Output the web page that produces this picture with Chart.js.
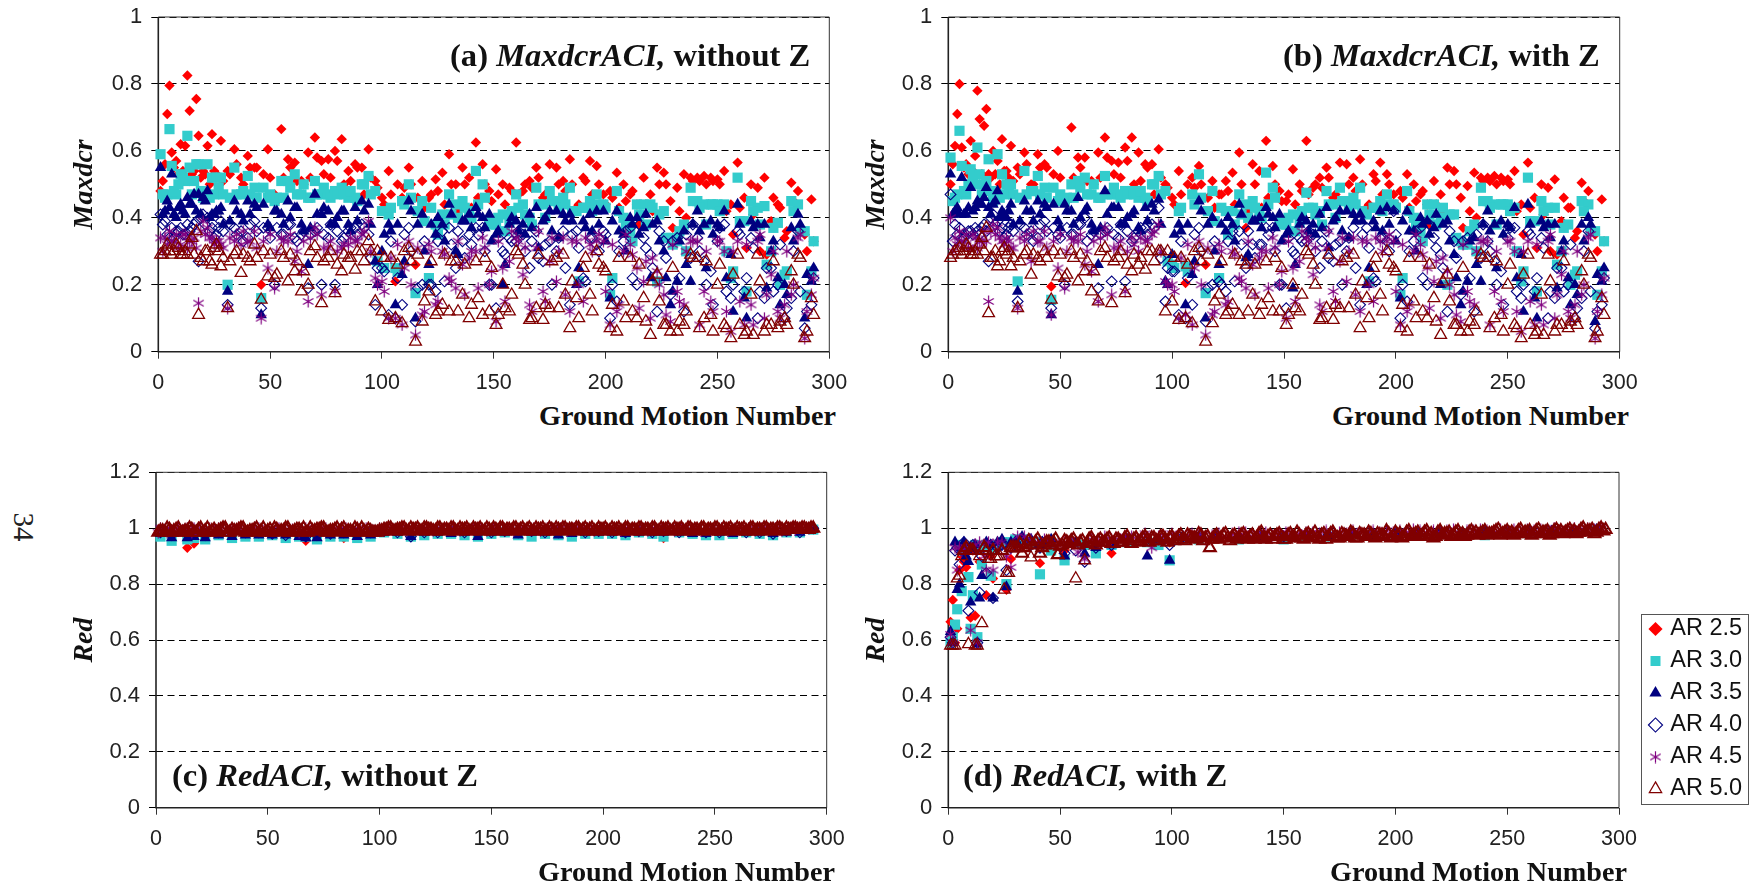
<!DOCTYPE html>
<html>
<head>
<meta charset="utf-8">
<title>Maxdcr and Red vs ground motion number</title>
<script src="https://cdn.jsdelivr.net/npm/chart.js@4/dist/chart.umd.min.js"></script>
<style>
body { margin: 0; background: #fff; }
#stage { position: relative; width: 1758px; height: 888px; overflow: hidden; }
canvas { position: absolute; }
#legendWrap { position: absolute; left: 1641px; top: 614px; width: 108px; height: 191px; border: 1.5px solid #555; box-sizing: border-box; overflow: hidden; }
.lab { position: absolute; font-family: "Liberation Serif", serif; font-weight: bold; color: #111; white-space: nowrap; line-height: 1; }
.lab i { font-style: italic; }
.xt { font-size: 28.2px; }
.pt { font-size: 32.6px; }
#pageNo { position: absolute; left: 23px; top: 527px; font: 29px "Liberation Serif", serif; color: #222; transform: translate(-50%, -50%) rotate(90deg); }
</style>
</head>
<body>
<div id="stage">
  <canvas id="chartA" width="795" height="390" style="left:60px;top:5px"></canvas>
  <canvas id="chartB" width="798" height="390" style="left:852px;top:5px"></canvas>
  <canvas id="chartC" width="795" height="400" style="left:60px;top:460px"></canvas>
  <canvas id="chartD" width="798" height="400" style="left:852px;top:460px"></canvas>
  <div id="legendWrap"><canvas id="legendChart" width="260" height="260" style="left:2px;top:-36px"></canvas></div>
  <span class="lab pt" style="left:450px;top:39px">(a) <i>MaxdcrACI,</i> without Z</span>
  <span class="lab pt" style="left:1283px;top:39px">(b) <i>MaxdcrACI,</i> with Z</span>
  <span class="lab pt" style="left:172px;top:759px">(c) <i>RedACI,</i> without Z</span>
  <span class="lab pt" style="left:963px;top:759px">(d) <i>RedACI,</i> with Z</span>
  <span class="lab xt" style="left:539px;top:402px">Ground Motion Number</span>
  <span class="lab xt" style="left:1332px;top:402px">Ground Motion Number</span>
  <span class="lab xt" style="left:538px;top:858px">Ground Motion Number</span>
  <span class="lab xt" style="left:1330px;top:858px">Ground Motion Number</span>
  <div id="pageNo">34</div>
</div>
<script>
const seriesNames = ['AR 2.5', 'AR 3.0', 'AR 3.5', 'AR 4.0', 'AR 4.5', 'AR 5.0'];

// ground motion numbers the values below were read at
const gmNumbers = [1,2,3,4,5,6,8,10,12,13,14,16,17,18,20,22,24,26,28,31,
  34,37,40,43,46,49,52,55,58,61,64,67,70,73,76,79,82,85,88,91,94,97,100,
  103,106,109,112,115,118,121,124,127,130,133,136,139,142,145,148,151,154,157,160,
  163,166,169,172,175,178,181,184,187,190,193,196,199,202,205,208,211,214,217,220,
  223,226,229,232,235,238,241,244,247,250,253,256,259,262,265,268,271,274,277,280,
  283,286,289,292];
// the rest of the crowd in (a) and (b), the two panels are nearly the same here
const gmCrowd = [7,9,11,15,19,21,23,25,27,29,32,35,38,41,44,47,50,53,56,59,62,65,68,71,74,77,80,83,86,89,92,95,98,101,
  104,107,110,113,116,119,122,125,128,131,134,137,140,143,146,149,152,155,158,161,
  164,167,170,173,176,179,182,185,188,191,194,197,200,203,206,209,212,215,218,221,
  224,227,230,233,236,239,242,245,248,251,254,257,260,263,266,269,272,275,278,281,
  284,287,290,293];
const gmBand = [1,3,5,7,9,11,13,15,17,19,21,23,25,27,29,31,33,35,37,39,41,43,45,47,49,51,53,55,57,59,61,63,65,67,69,71,73,75,77,79,81,83,85,87,89,91,93,95,97,99,
  101,103,105,107,109,111,113,115,117,119,121,123,125,127,129,131,133,135,137,139,141,143,145,147,149,151,153,155,157,159,161,163,165,167,169,171,173,175,177,179,181,183,185,187,189,191,193,195,197,199,
  201,203,205,207,209,211,213,215,217,219,221,223,225,227,229,231,233,235,237,239,241,243,245,247,249,251,253,255,257,259,261,263,265,267,269,271,273,275,277,279,281,283,285,287,289,291,293];
const gmBandEven = [2,4,6,8,10,12,14,16,18,20,22,24,26,28,30,32,34,36,38,40,42,44,46,48,50,52,54,56,58,60,62,64,66,68,70,72,74,76,78,80,82,84,86,88,90,92,94,96,98,100,
  102,104,106,108,110,112,114,116,118,120,122,124,126,128,130,132,134,136,138,140,142,144,146,148,150,152,154,156,158,160,162,164,166,168,170,172,174,176,178,180,182,184,186,188,190,192,194,196,198,200,
  202,204,206,208,210,212,214,216,218,220,222,224,226,228,230,232,234,236,238,240,242,244,246,248,250,252,254,256,258,260,262,264,266,268,270,272,274,276,278,280,282,284,286,288,290,292,294];
const gmSparseC = [2,7,14,17,22,28,34,40,46,52,58,64,67,72,78,84,90,96,102,108,114,120,126,132,138,144,150,156,162,168,174,180,186,192,198,204,210,216,222,227,234,240,246,252,258,264,270,276,282,288,294];
const gmSparseD = [1,2,3,4,5,6,7,8,9,10,11,12,13,14,15,17,19,20,22,24,26,28,30,33,37,41,42,46,52,57,61,66,73,80,89,94,99,105,112,120,130,140,150,160,170,180,190,200,210,220,230,240,250,260,270,280,290];

// (a) MaxdcrACI, without Z
const a25 = [.48,.51,.56,.71,.795,.595,.57,.62,.615,.825,.72,.54,.755,.645,.54,.615,.65,.53,.63,.54,
  .605,.52,.585,.55,.2,.605,.47,.665,.575,.565,.51,.595,.64,.57,.575,.6,.635,.54,.56,.55,.605,.51,.46,
  .54,.21,.46,.55,.26,.51,.46,.515,.535,.59,.5,.55,.52,.625,.56,.48,.545,.5,.49,.625,
  .48,.51,.55,.46,.56,.55,.51,.575,.43,.52,.57,.555,.47,.48,.535,.5,.47,.44,.52,.47,
  .55,.535,.45,.49,.53,.52,.52,.525,.52,.515,.54,.44,.565,.46,.5,.49,.52,.39,.44,.34,
  .505,.48,.35,.455];
const a30 = [.59,.47,.46,.47,.665,.555,.47,.53,.51,.645,.55,.51,.56,.56,.46,.56,.52,.52,.52,.2,
  .55,.47,.525,.49,.16,.46,.45,.51,.51,.53,.47,.46,.51,.47,.47,.48,.49,.46,.46,.5,.525,.48,.42,
  .41,.25,.45,.5,.175,.45,.22,.38,.41,.47,.44,.45,.42,.54,.5,.39,.38,.41,.39,.47,
  .44,.4,.49,.44,.48,.45,.46,.49,.42,.43,.45,.47,.44,.17,.48,.4,.36,.44,.44,.44,
  .21,.42,.34,.33,.38,.49,.45,.44,.44,.44,.44,.22,.52,.39,.45,.43,.435,.3,.385,.23,
  .45,.44,.36,.24];
const a35 = [.55,.41,.42,.45,.43,.53,.4,.44,.41,.46,.44,.47,.42,.47,.46,.48,.41,.42,.43,.18,
  .45,.41,.45,.44,.11,.38,.42,.41,.45,.43,.38,.26,.47,.41,.42,.38,.42,.38,.43,.45,.44,.27,.3,
  .38,.14,.23,.45,.1,.41,.26,.35,.38,.44,.3,.39,.41,.43,.4,.41,.35,.2,.38,.39,
  .38,.41,.43,.39,.42,.42,.41,.41,.2,.39,.41,.42,.42,.16,.42,.35,.4,.4,.37,.22,
  .39,.3,.14,.21,.36,.21,.42,.38,.39,.38,.42,.29,.44,.16,.39,.38,.38,.3,.22,.2,
  .37,.41,.1,.21];
const a40 = [.41,.38,.39,.35,.34,.37,.36,.37,.35,.38,.36,.38,.39,.27,.41,.4,.37,.35,.39,.14,
  .37,.36,.34,.39,.13,.37,.2,.35,.38,.34,.35,.19,.36,.2,.34,.2,.33,.36,.37,.38,.35,.14,.25,
  .11,.1,.14,.37,.09,.2,.2,.18,.36,.37,.25,.33,.35,.37,.37,.2,.13,.3,.34,.33,
  .35,.25,.36,.27,.33,.3,.36,.14,.36,.22,.34,.32,.36,.1,.15,.33,.37,.2,.34,.29,
  .12,.33,.17,.34,.12,.28,.34,.27,.24,.33,.38,.16,.36,.18,.34,.1,.16,.25,.2,.1,
  .16,.36,.07,.14];
const a45 = [.34,.3,.34,.32,.36,.33,.35,.32,.35,.31,.33,.34,.31,.145,.39,.37,.34,.33,.32,.13,
  .33,.32,.33,.36,.1,.25,.19,.34,.33,.27,.24,.15,.37,.17,.31,.18,.31,.32,.33,.35,.39,.22,.21,
  .1,.1,.08,.33,.05,.11,.32,.14,.3,.22,.19,.26,.28,.3,.34,.2,.09,.25,.27,.34,
  .23,.14,.31,.18,.27,.21,.34,.12,.33,.15,.32,.33,.33,.08,.12,.3,.32,.25,.21,.1,
  .24,.17,.09,.18,.14,.33,.33,.18,.15,.33,.3,.06,.33,.08,.14,.33,.1,.23,.12,.14,
  .17,.34,.04,.17];
const a50 = [.29,.29,.3,.32,.3,.29,.32,.29,.3,.29,.32,.29,.36,.11,.27,.3,.26,.32,.255,.13,
  .29,.235,.28,.32,.155,.225,.22,.3,.21,.24,.18,.2,.315,.145,.28,.175,.24,.28,.245,.3,.33,.15,.12,
  .095,.1,.085,.31,.03,.09,.18,.11,.14,.12,.27,.17,.1,.27,.11,.12,.08,.2,.12,.3,
  .26,.095,.13,.095,.13,.28,.29,.07,.16,.25,.17,.3,.25,.07,.06,.15,.28,.1,.16,.05,
  .23,.08,.06,.06,.08,.29,.28,.1,.11,.2,.08,.04,.29,.05,.17,.29,.06,.08,.07,.1,
  .24,.29,.04,.16];

// (b) MaxdcrACI, with Z
const b25 = [.5,.56,.615,.71,.8,.61,.56,.63,.585,.78,.695,.675,.725,.53,.6,.57,.635,.54,.615,.55,
  .595,.5,.59,.56,.195,.6,.46,.67,.58,.58,.51,.595,.64,.57,.565,.61,.64,.595,.56,.56,.605,.5,.46,
  .54,.205,.52,.555,.26,.51,.47,.51,.535,.595,.37,.56,.54,.63,.555,.48,.45,.545,.5,.63,
  .49,.52,.55,.46,.565,.56,.52,.575,.43,.53,.565,.53,.47,.48,.53,.5,.47,.44,.51,.47,
  .55,.54,.46,.495,.535,.52,.52,.525,.52,.515,.54,.44,.565,.46,.5,.49,.515,.39,.43,.34,
  .505,.48,.35,.455];
const b30 = [.58,.45,.46,.47,.66,.555,.47,.545,.5,.61,.53,.5,.51,.575,.45,.59,.53,.5,.5,.21,
  .54,.48,.525,.49,.155,.45,.45,.5,.51,.52,.47,.46,.525,.47,.47,.48,.48,.46,.46,.5,.525,.48,.26,
  .42,.255,.47,.53,.175,.48,.22,.42,.42,.47,.44,.45,.42,.535,.49,.39,.38,.41,.39,.475,
  .43,.42,.48,.44,.49,.45,.46,.49,.41,.43,.45,.47,.44,.17,.48,.4,.36,.44,.44,.4,
  .2,.41,.33,.32,.38,.49,.45,.44,.44,.44,.43,.21,.52,.39,.45,.43,.43,.3,.38,.23,
  .45,.44,.36,.24];
const b35 = [.53,.41,.42,.43,.41,.52,.41,.49,.43,.45,.44,.46,.49,.43,.44,.48,.42,.4,.44,.18,
  .45,.42,.45,.44,.11,.39,.44,.42,.46,.42,.38,.26,.48,.43,.43,.38,.41,.37,.43,.44,.455,.21,.29,
  .38,.14,.23,.45,.1,.4,.26,.36,.38,.44,.28,.39,.4,.43,.4,.41,.35,.19,.38,.39,
  .38,.41,.43,.39,.42,.42,.41,.41,.2,.39,.42,.43,.42,.16,.42,.36,.4,.39,.37,.2,
  .39,.29,.14,.21,.34,.21,.42,.38,.39,.38,.43,.29,.44,.16,.39,.38,.38,.3,.22,.2,
  .38,.4,.09,.21];
const b40 = [.47,.33,.38,.35,.37,.34,.35,.36,.37,.36,.35,.38,.36,.27,.41,.39,.37,.35,.38,.15,
  .37,.36,.34,.39,.13,.35,.2,.35,.38,.4,.35,.19,.36,.21,.34,.21,.33,.36,.37,.38,.43,.15,.24,
  .11,.1,.14,.37,.09,.2,.21,.18,.36,.36,.25,.32,.32,.37,.37,.2,.13,.3,.34,.33,
  .35,.25,.36,.27,.33,.3,.37,.14,.37,.22,.34,.33,.42,.1,.15,.33,.37,.2,.34,.29,
  .12,.33,.17,.34,.12,.28,.33,.27,.24,.34,.37,.16,.36,.18,.34,.1,.16,.25,.2,.1,
  .16,.36,.07,.14];
const b45 = [.4,.3,.34,.32,.36,.33,.35,.31,.34,.31,.33,.36,.33,.15,.38,.37,.33,.34,.31,.13,
  .33,.27,.33,.36,.11,.25,.19,.34,.33,.26,.24,.15,.37,.17,.31,.18,.34,.3,.33,.35,.38,.21,.2,
  .1,.11,.08,.33,.05,.11,.32,.14,.3,.22,.19,.26,.28,.3,.34,.2,.1,.25,.27,.34,
  .23,.14,.31,.18,.27,.21,.34,.12,.33,.15,.33,.33,.33,.08,.12,.3,.32,.25,.21,.1,
  .24,.17,.09,.18,.14,.33,.33,.18,.15,.33,.3,.06,.33,.08,.14,.33,.1,.23,.12,.14,
  .17,.34,.04,.17];
const b50 = [.28,.29,.3,.3,.31,.29,.32,.29,.3,.29,.32,.3,.37,.115,.28,.255,.3,.29,.255,.13,
  .29,.23,.28,.3,.155,.225,.22,.3,.21,.24,.18,.15,.31,.145,.28,.175,.24,.26,.245,.3,.3,.12,.15,
  .095,.1,.085,.31,.03,.085,.17,.11,.14,.11,.26,.17,.11,.27,.12,.12,.08,.2,.12,.3,
  .26,.095,.13,.095,.13,.28,.29,.07,.16,.25,.17,.3,.25,.07,.06,.15,.28,.1,.16,.05,
  .23,.08,.06,.06,.08,.29,.28,.1,.11,.2,.08,.04,.29,.05,.17,.29,.06,.08,.07,.1,
  .24,.29,.04,.16];

// crowd values shared by (a) and (b)
const crowd25 = [.55,.53,.54,.53,.52,.53,.5,.54,.52,.51,.53,.56,.5,.55,.55,.53,.52,.45,.52,.55,.51,.5,.52,.58,.53,.52,.57,.5,.51,.55,.47,.52,.49,.44,
  .47,.5,.49,.5,.46,.43,.47,.48,.44,.5,.42,.5,.43,.46,.5,.45,.47,.44,.48,.47,
  .5,.49,.52,.47,.45,.5,.48,.5,.44,.51,.47,.5,.44,.46,.43,.45,.48,.38,.44,.42,
  .5,.5,.37,.42,.4,.51,.51,.5,.51,.5,.42,.35,.43,.31,.41,.3,.29,.46,.43,.36,
  .45,.36,.3,.33];
const crowd30 = [.48,.5,.52,.47,.48,.47,.46,.47,.49,.47,.46,.47,.48,.47,.46,.49,.47,.46,.46,.49,.47,.5,.46,.47,.49,.46,.47,.47,.48,.45,.5,.47,.27,.25,
  .43,.24,.44,.46,.42,.39,.43,.35,.38,.41,.4,.43,.4,.44,.46,.38,.4,.36,.42,.43,
  .41,.38,.44,.4,.45,.43,.44,.42,.21,.43,.42,.44,.43,.22,.42,.38,.33,.41,.38,.43,
  .41,.34,.32,.36,.3,.45,.43,.38,.44,.42,.3,.24,.39,.18,.42,.38,.26,.37,.2,.24,
  .42,.36,.17,.33];
const crowd35 = [.41,.43,.42,.44,.41,.45,.4,.41,.42,.38,.39,.42,.39,.41,.43,.44,.37,.42,.38,.4,.43,.36,.37,.41,.43,.38,.4,.42,.36,.39,.42,.38,.2,.35,
  .36,.38,.27,.42,.38,.3,.38,.4,.33,.41,.29,.39,.37,.41,.37,.33,.36,.26,.4,.36,
  .35,.37,.31,.4,.36,.34,.39,.39,.25,.37,.36,.38,.33,.39,.36,.3,.38,.35,.41,.38,
  .33,.22,.18,.33,.26,.38,.36,.25,.35,.37,.22,.12,.38,.1,.37,.34,.19,.33,.14,.17,
  .33,.38,.23,.25];
const crowd40 = [.34,.36,.35,.37,.4,.38,.36,.34,.37,.36,.38,.35,.33,.38,.36,.37,.34,.37,.35,.38,.33,.36,.35,.37,.35,.38,.36,.34,.37,.35,.37,.28,.25,.24,
  .33,.22,.35,.3,.19,.33,.2,.33,.21,.32,.36,.28,.32,.35,.3,.2,.34,.29,.33,.36,
  .3,.33,.28,.32,.2,.34,.25,.35,.31,.21,.34,.3,.35,.2,.3,.36,.22,.38,.31,.25,
  .36,.28,.33,.22,.35,.38,.3,.2,.14,.37,.18,.2,.35,.22,.31,.18,.25,.18,.32,.13,
  .3,.18,.12,.22];
const crowd45 = [.33,.31,.35,.33,.36,.35,.34,.32,.33,.31,.34,.35,.36,.33,.31,.33,.35,.3,.33,.35,.3,.33,.34,.35,.31,.33,.3,.32,.34,.33,.36,.3,.2,.18,
  .28,.32,.25,.2,.31,.12,.3,.15,.29,.21,.33,.17,.3,.19,.31,.24,.33,.15,.36,.33,
  .31,.12,.36,.15,.34,.3,.17,.33,.2,.34,.3,.35,.18,.32,.14,.35,.29,.13,.27,.28,
  .2,.11,.32,.15,.3,.33,.08,.3,.12,.33,.12,.3,.15,.32,.08,.35,.17,.3,.1,.3,
  .2,.35,.12,.22];
const crowd50 = [.3,.31,.29,.34,.28,.3,.27,.31,.3,.28,.27,.3,.29,.27,.28,.3,.29,.23,.28,.29,.27,.24,.3,.28,.27,.3,.26,.29,.28,.3,.27,.3,.3,.28,
  .28,.26,.3,.27,.29,.15,.27,.12,.29,.27,.12,.26,.14,.16,.28,.25,.11,.13,.17,.29,
  .2,.1,.29,.14,.27,.13,.17,.21,.1,.28,.12,.26,.24,.14,.28,.1,.12,.26,.09,.21,
  .15,.08,.25,.09,.12,.28,.07,.27,.06,.26,.07,.23,.08,.06,.05,.21,.08,.27,.09,.08,
  .2,.28,.06,.11];

// (c) RedACI, without Z
const c25 = [.98,.975,.93,.945,.97,.98,.985,.98,.985,.98,.985,.98,.955,.98,.985,.965,.98,.985,.99,.985,.985,.99,.985,.985,.985,.98,.985,.99,.985,.99,.985,.985,.99,.99,.985,.99,.99,.985,.99,.965,.99,.99,.985,.99,.985,.99,.985,.99,.99,.99,1];
const c30 = [.97,.955,.96,.965,.96,.975,.965,.97,.97,.975,.965,.97,.97,.96,.97,.97,.965,.97,.985,.98,.97,.975,.98,.98,.975,.97,.98,.985,.975,.97,.98,.975,.97,.98,.98,.98,.975,.985,.98,.97,.985,.98,.975,.975,.98,.985,.98,.975,.985,.985,.995];
const c35 = [.98,.965,.965,.97,.965,.975,.97,.975,.975,.975,.975,.97,.965,.965,.975,.975,.97,.975,.985,.985,.97,.985,.985,.98,.985,.97,.985,.985,.975,.985,.985,.975,.98,.985,.985,.985,.98,.985,.985,.985,.985,.98,.98,.985,.98,.985,.985,.98,.985,.985,1];
const c40 = [.985,.975,.98,.98,.975,.985,.98,.985,.985,.98,.975,.985,.97,.975,.98,.985,.98,.985,.99,.985,.97,.985,.985,.99,.985,.98,.985,.99,.985,.99,.985,.985,.99,.985,.99,.985,.985,.99,.985,.99,.985,.99,.985,.985,.99,.985,.985,.98,.99,.985,1];
const c45 = [.985,1,.99,.995,.985,1,.99,1,.99,.995,1,.985,1,.99,1,.995,1,.99,1,.995,
  .99,1,.99,.995,1,.99,.995,1,.99,.995,.985,1,.99,.995,1,.99,.995,1,.99,.995,1,.99,1,
  1,.995,1,.99,1,.995,1,.99,1,.995,1,.99,1,.995,1,.99,1,.995,1,.99,
  1,.995,1,.99,1,.995,1,.99,1,.995,1,.99,1,.995,1,.99,1,.995,1,.99,
  1,.995,1,.99,1,.995,1,.99,1,.995,1,.99,1,.995,1,.99,1,.995,1,.99,
  1,.995,1,1];
const c50 = [.985,.99,1,.985,.995,.985,.99,1,.985,.995,.985,1,.99,.985,.995,1,.985,.99,.995,1,.985,.99,1,.99,.985,.995,1,.985,.99,1,.985,.995,.99,.985,1,.99,.995,1,.985,.99,1,.995,.985,.99,1,.985,.99,.995,.985,.985,
  .99,.995,1,.99,.995,1,.99,.995,1,.99,1,.995,.99,1,.995,.99,1,.99,.995,1,.99,.995,1,.99,.995,1,.99,1,.995,.99,1,.995,.99,1,.99,.995,1,.99,.995,1,.99,1,.995,.99,1,.995,.99,1,.99,.995,
  1,.99,.995,1,.99,1,.995,.99,1,.995,.99,1,.99,.995,1,.99,.995,1,.99,1,.995,.99,1,.995,.99,1,.99,.995,1,.99,.995,1,.99,1,.995,.99,1,.995,.99,1,.99,.995,1,.995,1,.995,1];
const c50even = [.99,.985,.995,.99,1,.985,.99,.995,.985,1,.99,.985,.995,.99,1,.985,.995,.99,1,.985,.99,.995,.985,1,.99,.985,.995,.99,1,.985,.99,.995,1,.985,.99,.995,1,.985,.99,.995,.985,1,.99,.985,.995,1,.985,.99,.985,.99,
  .995,1,.99,.995,1,.99,1,.995,.99,1,.995,.99,1,.99,.995,1,.99,1,.995,.99,1,.995,.99,1,.99,.995,1,.99,.995,1,.99,1,.995,.99,1,.995,.99,1,.99,.995,1,.99,.995,1,.99,1,.995,.99,1,.995,
  .99,1,.995,.99,1,.99,.995,1,.99,.995,1,.99,1,.995,.99,1,.995,.99,1,.99,.995,1,.99,.995,1,.99,1,.995,.99,1,.995,.99,1,.99,.995,1,.99,.995,1,.995,1,.995,1,.995,1,.995,1];

// (d) RedACI, with Z
const d25 = [.665,.743,.59,.64,.85,.9,.88,.86,.93,.68,.92,.687,.93,.88,.94,.76,.9,.82,.93,.94,.78,.89,.94,.95,.95,.875,.95,.95,.92,.95,.94,.95,.91,.96,.96,.96,.95,.97,.97,.97,.975,.97,.97,.97,.975,.98,.975,.98,.98,.98,.985,.985,.98,.985,.99,.99,.995];
const d30 = [.59,.61,.655,.71,.94,.775,.92,.93,.825,.64,.76,.94,.61,.93,.87,.94,.83,.93,.94,.95,.8,.95,.96,.96,.95,.835,.95,.92,.885,.95,.94,.91,.94,.95,.95,.94,.885,.96,.96,.965,.96,.965,.96,.97,.97,.975,.97,.975,.98,.98,.98,.975,.98,.98,.985,.985,.99];
const d35 = [.63,.59,.95,.78,.8,.93,.95,.9,.88,.735,.93,.94,.585,.75,.83,.95,.94,.75,.95,.96,.79,.95,.95,.97,.96,.94,.95,.96,.9,.95,.91,.93,.94,.96,.9,.96,.885,.97,.965,.97,.965,.97,.97,.975,.97,.98,.975,.98,.98,.985,.98,.985,.98,.985,.99,.99,.995];
const d40 = [.61,.59,.92,.93,.87,.92,.95,.93,.705,.93,.94,.93,.59,.77,.9,.84,.94,.75,.93,.94,.85,.93,.95,.96,.94,.93,.95,.95,.91,.92,.88,.93,.94,.96,.96,.96,.94,.97,.97,.97,.97,.975,.97,.975,.975,.98,.98,.98,.98,.985,.985,.985,.985,.99,.99,.99,.995];
const d45 = [.62,.59,.93,.85,.93,.92,.93,.635,.94,.59,.95,.9,.85,.95,.85,.95,.95,.9,.86,.97,
  .97,.96,.95,.96,.95,.94,.95,.96,.915,.89,.96,.95,.97,.96,.96,.97,.97,.96,.98,.93,.97,.97,.98,
  .97,.97,.98,.975,.96,.975,.98,.97,.98,.985,.985,.97,.98,.985,.975,.98,.985,.975,.98,.985,
  .985,.98,.99,.98,.985,.98,.99,.985,.98,.99,.985,.99,.985,.99,.985,.995,.99,.985,.99,.985,
  .99,.995,.98,.99,.99,.995,.99,.985,.995,.99,.995,.99,.995,.99,.995,.99,1,.995,.99,1,
  .995,1,.995,1];
const d50 = [.58,.58,.83,.92,.585,.92,.58,.66,.92,.89,.9,.9,.78,.84,.93,
  .93,.91,.94,.895,.95,.91,.94,.95,.95,.905,.94,.95,.955,.82,.95,.885,.96,.95,.955,.95,.96,.945,.96,.95,.965,.955,.96,.95,.965,.96,.965,.955,.97,.96,.965,
  .955,.97,.96,.975,.965,.96,.975,.965,.93,.97,.96,.975,.965,.97,.96,.975,.965,.97,.96,.98,.965,.97,.96,.975,.97,.96,.98,.965,.975,.96,.98,.97,.965,.975,.96,.98,.97,.965,.975,.97,.98,.965,.975,.97,.98,.965,.975,.97,.98,.97,
  .975,.965,.985,.97,.98,.97,.985,.975,.965,.985,.975,.98,.97,.985,.975,.97,.985,.98,.975,.985,.975,.98,.99,.975,.985,.98,.975,.99,.98,.985,.975,.99,.98,.985,.975,.99,.985,.98,.99,.985,.98,.995,.985,.99,.98,.995,.99];
const d50even = [.58,.82,.9,.93,.92,.58,.9,.93,.89,.92,.9,.92,.84,.93,.93,
  .945,.93,.955,.94,.96,.93,.95,.94,.96,.935,.955,.945,.96,.94,.955,.945,.965,.94,.96,.95,.965,.945,.96,.95,.97,.945,.965,.955,.97,.95,.965,.955,.97,.95,.97,
  .96,.975,.955,.97,.965,.98,.955,.97,.96,.975,.965,.98,.955,.975,.965,.98,.96,.975,.965,.985,.96,.975,.97,.98,.96,.975,.97,.985,.965,.975,.97,.985,.96,.98,.97,.985,.965,.98,.97,.985,.965,.98,.975,.985,.97,.98,.975,.99,.965,.985,
  .98,.97,.99,.975,.985,.975,.99,.98,.97,.99,.98,.985,.975,.99,.98,.975,.99,.985,.98,.99,.98,.985,.995,.98,.99,.985,.98,.995,.985,.99,.98,.995,.985,.99,.98,.995,.99,.985,.995,.99,.985,1,.99,.995,.985,1,.995];

const panels = [
  { id: 'chartA', plot: [158.3, 829.3, 17, 351.7], yMax: 1, yTitle: 'Maxdcr',
    parts: [[gmNumbers, a25, a30, a35, a40, a45, a50], [gmCrowd, crowd25, crowd30, crowd35, crowd40, crowd45, crowd50]] },
  { id: 'chartB', plot: [948.3, 1619.7, 17, 351.7], yMax: 1, yTitle: 'Maxdcr',
    parts: [[gmNumbers, b25, b30, b35, b40, b45, b50], [gmCrowd, crowd25, crowd30, crowd35, crowd40, crowd45, crowd50]] },
  { id: 'chartC', plot: [156, 826.7, 472.3, 807.7], yMax: 1.2, yTitle: 'Red',
    parts: [[gmSparseC, c25, c30, c35, c40], [gmNumbers, null, null, null, null, c45], [gmBand, null, null, null, null, null, c50], [gmBandEven, null, null, null, null, null, c50even]] },
  { id: 'chartD', plot: [948.3, 1619, 472.3, 807.7], yMax: 1.2, yTitle: 'Red',
    parts: [[gmSparseD, d25, d30, d35, d40], [gmNumbers, null, null, null, null, d45], [gmBand, null, null, null, null, null, d50], [gmBandEven, null, null, null, null, null, d50even]] }
];

// six armed asterisk, chart.js only has the eight armed one
function asteriskMarker(size, color) {
    const c = document.createElement('canvas');
    c.width = size;
    c.height = size;
    const g = c.getContext('2d');
    const r = size / 2 - 0.5;
    g.strokeStyle = color;
    g.lineWidth = 1.2;
    g.beginPath();
    for (let k = 0; k < 3; k++) {
        const t = k * Math.PI / 3;
        g.moveTo(size / 2 + Math.sin(t) * r, size / 2 - Math.cos(t) * r);
        g.lineTo(size / 2 - Math.sin(t) * r, size / 2 + Math.cos(t) * r);
    }
    g.stroke();
    return c;
}

const markers = [
    { pointStyle: 'rectRot', pointRadius: 5.2, backgroundColor: '#FF0000', borderColor: '#FF0000', pointBorderWidth: 0 },
    { pointStyle: 'rect', pointRadius: 7.2, backgroundColor: '#33CCCC', borderColor: '#33CCCC', pointBorderWidth: 0 },
    { pointStyle: 'triangle', pointRadius: 6.6, backgroundColor: '#000080', borderColor: '#000080', pointBorderWidth: 0 },
    { pointStyle: 'rectRot', pointRadius: 5.4, backgroundColor: 'rgba(0,0,0,0)', borderColor: '#000080', pointBorderWidth: 1.1 },
    { pointStyle: asteriskMarker(13, '#800080'), pointRadius: 6.5, backgroundColor: 'rgba(0,0,0,0)', borderColor: '#800080', pointBorderWidth: 1.2 },
    { pointStyle: 'triangle', pointRadius: 6.8, backgroundColor: 'rgba(0,0,0,0)', borderColor: '#800000', pointBorderWidth: 1.3 }
];

// the packed band of Red is solid in the picture, so heavier outlines up there
const bandBorder = c => (c.parsed && c.parsed.y > 0.9 ? 2.1 : 1.3);

// x/y points of one series, collected from the list pairs of a panel
function seriesPoints(panel, s) {
    const pts = [];
    panel.parts.forEach(part => {
        const ys = part[s + 1];
        if (ys) ys.forEach((v, k) => pts.push({ x: part[0][k], y: v }));
    });
    return pts;
}

const framePlugin = {
    id: 'frame',
    beforeDatasetsDraw(chart) {
        const a = chart.chartArea;
        const ctx = chart.ctx;
        ctx.save();
        ctx.strokeStyle = '#333';
        ctx.lineWidth = 1;
        ctx.beginPath();
        ctx.moveTo(a.left, a.top);
        ctx.lineTo(a.right, a.top);
        ctx.lineTo(a.right, a.bottom);
        ctx.stroke();
        ctx.strokeStyle = '#222';
        ctx.lineWidth = 1.6;
        ctx.beginPath();
        ctx.moveTo(a.left, a.top);
        ctx.lineTo(a.left, a.bottom);
        ctx.lineTo(a.right, a.bottom);
        ctx.stroke();
        ctx.restore();
    }
};

panels.forEach(p => {
    const el = document.getElementById(p.id);
    const left = parseFloat(el.style.left);
    const top = parseFloat(el.style.top);
    new Chart(el, {
        type: 'scatter',
        data: {
            datasets: seriesNames.map((name, i) => ({
                label: name,
                data: seriesPoints(p, i),
                order: 5 - i,
                clip: false,
                ...markers[i],
                ...(p.yMax > 1 && i === 5 ? { pointBorderWidth: bandBorder } : {})
            }))
        },
        plugins: [framePlugin],
        options: {
            responsive: false,
            animation: false,
            layout: { padding: { top: p.plot[2] - top, right: left + el.width - p.plot[1], left: 0, bottom: 0 } },
            plugins: { legend: { display: false }, tooltip: { enabled: false } },
            scales: {
                x: {
                    type: 'linear', min: 0, max: 300,
                    afterFit: s => { s.height = top + el.height - p.plot[3]; s.paddingLeft = 0; s.paddingRight = 0; },
                    border: { display: false },
                    grid: { drawOnChartArea: false, tickLength: 7, color: '#333' },
                    ticks: { stepSize: 50, maxRotation: 0, padding: 11, color: '#222', font: { family: 'Liberation Sans', size: 21.5 } }
                },
                y: {
                    min: 0, max: p.yMax,
                    afterFit: s => { s.width = p.plot[0] - left; s.paddingTop = 0; s.paddingBottom = 0; },
                    border: { display: false, dash: [7, 4.5] },
                    grid: { color: '#000', lineWidth: 1, tickLength: 7, tickBorderDash: [] },
                    ticks: { stepSize: 0.2, padding: 9, color: '#222', font: { family: 'Liberation Sans', size: 22 }, callback: v => String(+v.toFixed(1)) },
                    title: { display: true, text: p.yTitle, padding: { top: 8, bottom: 0 }, color: '#111', font: { family: 'Liberation Serif', size: 28, weight: 'bold', style: 'italic' } }
                }
            }
        }
    });
});

// legend sits in its own box next to panel (d)
new Chart(document.getElementById('legendChart'), {
    type: 'scatter',
    data: { datasets: seriesNames.map((name, i) => ({ label: name, data: [], ...markers[i] })) },
    options: {
        responsive: false,
        animation: false,
        layout: { padding: 0 },
        scales: { x: { display: false }, y: { display: false } },
        plugins: {
            tooltip: { enabled: false },
            legend: {
                position: 'left',
                labels: { usePointStyle: true, boxWidth: 6, boxHeight: 10, padding: 8.5, color: '#111', font: { family: 'Liberation Sans', size: 23.5, lineHeight: 1 } }
            }
        }
    }
});
</script>
</body>
</html>
